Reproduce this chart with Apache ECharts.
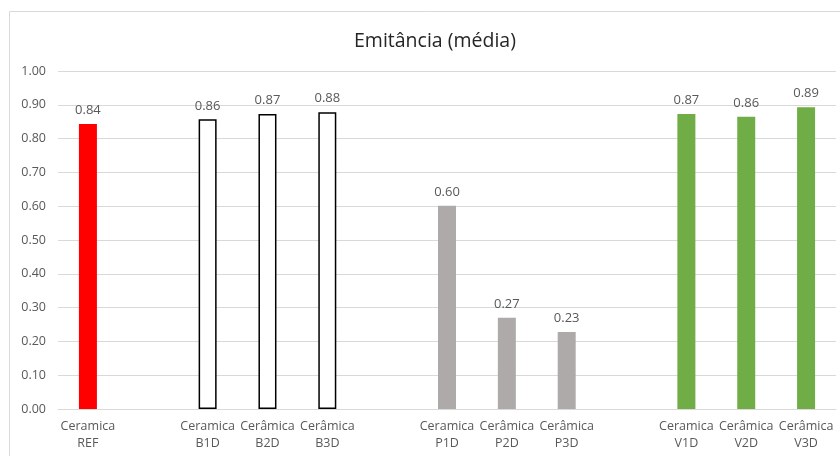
<!DOCTYPE html>
<html>
<head>
<meta charset="utf-8">
<script src="https://cdn.jsdelivr.net/npm/echarts@6/dist/echarts.min.js"></script>
<style>
  html, body { margin: 0; padding: 0; background: #fff; }
  #chart { width: 840px; height: 456px; }
</style>
</head>
<body>
<div id="chart"></div>
<script>
// categorias (vazias = espaços entre grupos)
var categorias = ['Ceramica\nREF', '', 'Ceramica\nB1D', 'Cerâmica\nB2D', 'Cerâmica\nB3D', '',
    'Ceramica\nP1D', 'Cerâmica\nP2D', 'Cerâmica\nP3D', '',
    'Ceramica\nV1D', 'Cerâmica\nV2D', 'Cerâmica\nV3D'];
var emitancia = [0.843, null, 0.857, 0.873, 0.878, null, 0.601, 0.270, 0.228, null, 0.873, 0.865, 0.893];
var grupos = ['REF', '', 'B', 'B', 'B', '', 'P', 'P', 'P', '', 'V', 'V', 'V'];

var estilos = {
    REF: { color: '#ff0000' },
    B: { color: '#ffffff', borderColor: '#000000', borderWidth: 1.5 },
    P: { color: '#aeaaaa' },
    V: { color: '#70ad47' },
    '': {}
};

var dados = emitancia.map(function (v, i) {
    return { value: v, itemStyle: estilos[grupos[i]] };
});

var chart = echarts.init(document.getElementById('chart'));
chart.setOption({
    animation: false,
    textStyle: { fontFamily: 'Open Sans' },
    title: {
        text: 'Emitância (média)',
        left: 349,
        top: 26,
        textStyle: { fontSize: 19.5, fontWeight: 'normal', color: '#262626', fontFamily: 'Open Sans' }
    },
    graphic: [{
        type: 'rect',
        shape: { x: 9.5, y: 11.5, width: 900, height: 500 },
        style: { fill: 'none', stroke: '#d9d9d9', lineWidth: 1 },
        silent: true
    }],
    grid: { left: 58, right: 4, top: 71, bottom: 47 },
    xAxis: {
        type: 'category',
        data: categorias,
        axisLine: { lineStyle: { color: '#d9d9d9' } },
        axisTick: { show: false },
        axisLabel: { interval: 0, color: '#595959', fontSize: 12.5, lineHeight: 17, margin: 9 }
    },
    yAxis: {
        type: 'value',
        min: 0,
        max: 1,
        interval: 0.1,
        axisLine: { show: false },
        axisTick: { show: false },
        splitLine: { lineStyle: { color: '#d9d9d9' } },
        axisLabel: {
            color: '#595959',
            fontSize: 12.5,
            margin: 12,
            formatter: function (v) { return v.toFixed(2); }
        }
    },
    series: [{
        type: 'bar',
        data: dados,
        barWidth: 18,
        label: {
            show: true,
            position: 'top',
            distance: 7,
            color: '#595959',
            fontSize: 13,
            formatter: function (p) { return p.value.toFixed(2); }
        }
    }]
});
</script>
</body>
</html>
